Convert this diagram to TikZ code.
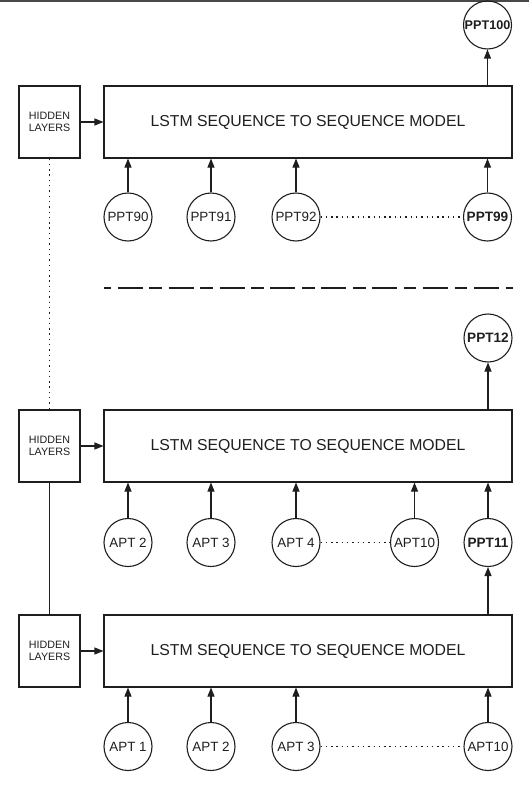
\documentclass[tikz,border=0pt]{standalone}
\usepackage{fontspec}
\setmainfont{Liberation Sans}
\usetikzlibrary{arrows.meta}
\definecolor{ink}{RGB}{30,30,30}
\definecolor{topbar}{RGB}{72,72,72}
\tikzset{
  hlbox/.style={draw=ink, line width=1.1pt, rectangle, minimum width=61pt, minimum height=72pt, inner sep=0pt, align=center, font=\fontsize{10.7}{12.7}\selectfont, text=ink},
  lstmbox/.style={draw=ink, line width=1.1pt, rectangle, minimum width=408pt, minimum height=72pt, inner sep=0pt, font=\fontsize{15.8}{18}\selectfont, text=ink},
  tok/.style={draw=ink, line width=1.1pt, circle, minimum size=48pt, inner sep=0pt, font=\fontsize{13.4}{15}\selectfont, text=ink},
  tokb/.style={tok, font=\fontsize{13.6}{15}\selectfont\bfseries},
  arr/.style={draw=ink, line width=1.1pt, -{Triangle[length=9pt,width=7pt]}},
  dotline/.style={draw=ink, line width=1.2pt, dash pattern=on 1.4pt off 3.9pt},
  solidline/.style={draw=ink, line width=1.1pt},
  sep/.style={draw=ink, line width=1.5pt, dash pattern=on 12.5pt off 6.7pt on 25pt off 6.7pt, dash phase=5.5pt}
}
\begin{document}
\begin{tikzpicture}[x=1pt,y=-1pt]
\useasboundingbox (0,0) rectangle (529,789);
\fill[topbar] (0,0) rectangle (529,2.2);
% ---- top section
\node[tokb, font=\fontsize{12.6}{14}\selectfont\bfseries] (p100) at (487.5,25) {PPT100};
\node[hlbox] (h1) at (49.5,122) {HIDDEN\\LAYERS};
\node[lstmbox] (m1) at (308,122) {LSTM SEQUENCE TO SEQUENCE MODEL};
\node[tok] (p90) at (128,217) {PPT90};
\node[tok] (p91) at (211,217) {PPT91};
\node[tok] (p92) at (296,217) {PPT92};
\node[tokb] (p99) at (487.5,217) {PPT99};
\draw[arr] (h1) -- (m1);
\draw[arr] (p100 |- m1.north) -- (p100);
\foreach \c in {p90,p91,p92,p99} \draw[arr] (\c) -- (\c |- m1.south);
\draw[dotline] (p92) -- (p99);
% separator
\coordinate (sa) at (104,288);
\coordinate (sb) at (513,288);
\draw[sep] (sa) -- (sb);
% ---- middle section
\node[tokb] (p12) at (488,338) {PPT12};
\node[hlbox] (h2) at (49.5,446) {HIDDEN\\LAYERS};
\node[lstmbox] (m2) at (308,446) {LSTM SEQUENCE TO SEQUENCE MODEL};
\node[tok] (a2) at (128,542.5) {APT 2};
\node[tok] (a3) at (211,542.5) {APT 3};
\node[tok] (a4) at (296,542.5) {APT 4};
\node[tok] (a10) at (414.5,542.5) {APT10};
\node[tokb] (p11) at (488,542.5) {PPT11};
\draw[arr] (h2) -- (m2);
\draw[arr] (p12 |- m2.north) -- (p12);
\foreach \c in {a2,a3,a4,a10,p11} \draw[arr] (\c) -- (\c |- m2.south);
\draw[dotline] (a4) -- (a10);
\draw[dotline] (h1) -- (h2);
% ---- bottom section
\node[hlbox] (h3) at (49.5,651) {HIDDEN\\LAYERS};
\node[lstmbox] (m3) at (308,651) {LSTM SEQUENCE TO SEQUENCE MODEL};
\node[tok] (b1) at (128,746.5) {APT 1};
\node[tok] (b2) at (211,746.5) {APT 2};
\node[tok] (b3) at (296,746.5) {APT 3};
\node[tok] (b10) at (488,746.5) {APT10};
\draw[arr] (h3) -- (m3);
\draw[arr] (p11 |- m3.north) -- (p11);
\foreach \c in {b1,b2,b3,b10} \draw[arr] (\c) -- (\c |- m3.south);
\draw[dotline] (b3) -- (b10);
\draw[solidline] (h2) -- (h3);
\end{tikzpicture}
\end{document}
